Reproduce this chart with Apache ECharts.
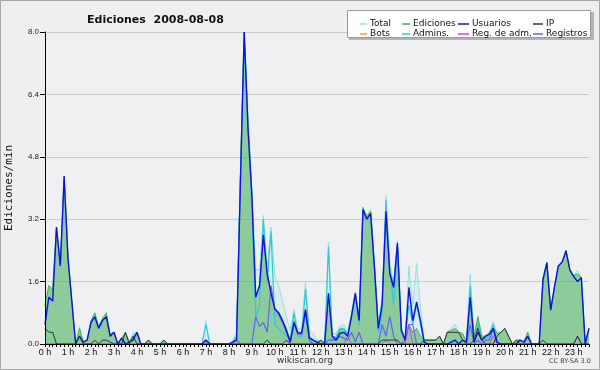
<!DOCTYPE html>
<html>
<head>
<meta charset="utf-8">
<script src="https://cdn.jsdelivr.net/npm/echarts@6/dist/echarts.min.js"></script>
<style>
html,body{margin:0;padding:0;background:#efefef;}
#c{width:600px;height:370px;}
</style>
</head>
<body>
<div id="c"></div>
<script>
// Hour tick labels
var hourLabels = ['0 h','1 h','2 h','3 h','4 h','5 h','6 h','7 h','8 h','9 h','10 h','11 h',
  '12 h','13 h','14 h','15 h','16 h','17 h','18 h','19 h','20 h','21 h','22 h','23 h'];
var yTicks = [0, 1.6, 3.2, 4.8, 6.4, 8.0];

// 10-minute samples, 00:00 .. 23:40 (edits per minute)
var total = [
  1.0,1.5,1.4,3.0,2.0,4.3,   2.3,1.1,0,0.45,0.05,0.1,   0.6,0.8,0.45,0.65,0.8,0.25,
  0.3,0,0.15,0.3,0.05,0.3,   0.3,0,0,0.1,0,0,           0,0.1,0,0,0,0,
  0,0,0,0,0,0,               0.6,0,0,0,0,0,             0,0.1,0.3,4.4,8.0,5.9,
  4.0,1.9,1.9,3.3,2.0,3.0,   1.75,1.5,1.1,0.7,0.35,0.9, 0.4,0.4,1.6,0.37,0.25,0.1,
  0.1,0.05,2.6,0.25,0.27,0.45, 0.5,0.3,0.8,1.35,0.65,3.5, 3.3,3.45,2.1,0.5,1.2,3.8,
  2.1,1.55,2.65,0.45,0.15,2.0, 0.95,2.07,0.95,0.1,0.1,0.1, 0.1,0.2,0,0.3,0.4,0.5,
  0.3,0.27,0.1,1.8,0.2,0.7,  0.2,0.2,0.3,0.57,0.3,0.3,  0.4,0.2,0,0.1,0.1,0.05,
  0.3,0,0,0,1.7,2.1,         0.87,1.47,2.0,2.1,2.4,1.9, 1.75,1.88,1.7,0.05,0.4
];
var ediciones = [
  1.0,1.5,1.4,3.0,2.0,4.3,   2.2,1.1,0,0.4,0.05,0.1,    0.6,0.8,0.45,0.65,0.8,0.25,
  0.3,0,0.15,0.3,0.05,0.2,   0.3,0,0,0.1,0,0,           0,0.1,0,0,0,0,
  0,0,0,0,0,0,               0.1,0,0,0,0,0,             0,0.05,0.2,4.3,8.0,5.6,
  3.9,1.2,1.5,2.7,1.85,1.3,  0.9,0.8,0.6,0.4,0.1,0.6,   0.3,0.3,0.9,0.2,0.1,0.05,
  0.1,0,1.3,0.2,0.15,0.35,   0.4,0.25,0.75,1.3,0.6,3.5, 3.25,3.4,2.0,0.45,1.1,3.5,
  1.9,1.5,2.6,0.4,0.1,0.5,   0.3,0.4,0.2,0.1,0.1,0.1,   0.1,0.2,0,0.3,0.35,0.4,
  0.3,0.27,0.05,1.3,0.2,0.7, 0.2,0.2,0.3,0.45,0.27,0.3, 0.4,0.2,0,0.1,0.1,0.05,
  0.3,0,0,0,1.7,2.1,         0.87,1.47,2.0,2.1,2.4,1.9, 1.75,1.8,1.7,0.05,0.4
];
var usuarios = [
  0.5,1.2,1.1,3.0,2.0,4.3,   2.2,1.1,0,0.2,0.05,0.1,    0.55,0.7,0.4,0.6,0.7,0.2,
  0.3,0,0.15,0,0.05,0.1,     0.3,0,0,0,0,0,             0,0,0,0,0,0,
  0,0,0,0,0,0,               0.1,0,0,0,0,0,             0,0.05,0.1,4.1,8.0,5.5,
  3.8,1.2,1.5,2.8,1.8,1.3,   0.9,0.8,0.6,0.35,0.05,0.55, 0.28,0.28,0.88,0.15,0.1,0.05,
  0,0,1.3,0.2,0.1,0.27,      0.3,0.2,0.7,1.3,0.6,3.45,  3.2,3.35,1.95,0.4,1.0,3.4,
  1.8,1.45,2.58,0.35,0.1,1.45, 0.6,1.08,0.6,0.05,0,0,   0,0,0,0,0.05,0.1,
  0,0.1,0.05,1.2,0.05,0.3,   0.1,0.2,0.25,0.4,0.05,0,   0,0,0,0,0.1,0.05,
  0.2,0,0,0,1.65,2.08,       0.87,1.47,2.0,2.1,2.39,1.9, 1.73,1.6,1.7,0,0.4
];
var ip = [
  0.4,0.3,0.3,0,0,0,         0,0,0,0.2,0,0,             0,0.1,0,0.1,0.1,0.05,
  0,0,0,0.3,0,0.2,           0,0,0,0.1,0,0,             0,0.1,0,0,0,0,
  0,0,0,0,0,0,               0,0,0,0,0,0,               0,0,0,0,0,0,
  0,0,0,0,0.1,0,             0,0,0,0.1,0,0,             0,0,0,0,0,0,
  0.1,0,0,0,0,0,             0,0,0,0,0,0,               0,0,0,0,0.1,0.1,
  0.1,0.1,0.1,0,0,0,         0,0,0,0.1,0.1,0.1,         0.1,0.2,0,0.3,0.3,0.3,
  0.3,0.1,0,0,0.1,0.4,       0.1,0,0,0,0.2,0.3,         0.4,0.2,0,0.1,0,0,
  0,0,0,0,0.1,0,             0,0,0,0,0,0,               0,0.2,0,0,0
];
var bots = [
  0,0,0,0,0,0, 0,0,0,0,0,0, 0,0,0,0,0,0, 0,0,0,0,0,0, 0,0,0,0,0,0, 0,0,0,0,0,0,
  0,0,0,0,0,0, 0,0,0,0,0,0, 0,0,0,0,0,0, 0,0,0,0,0,0, 0,0,0,0,0,0, 0,0,0,0,0,0,
  0,0,0,0,0,0, 0,0,0,0,0,0, 0,0,0,0,0,0, 0,0,0,0,0,0, 0,0,0,0,0,0, 0,0,0,0,0,0,
  0,0,0,0,0,0, 0,0,0,0,0,0, 0,0,0,0,0,0, 0,0,0,0,0,0, 0,0,0,0,0,0, 0,0,0,0,0
];
var admins = [
  0,0,0,0,0,0,               0,0,0,0,0,0,               0,0,0,0,0,0,
  0,0,0,0,0,0,               0,0,0,0,0,0,               0,0,0,0,0,0,
  0,0,0,0,0,0,               0.5,0,0,0,0,0,             0,0,0.1,4.2,7.8,5.6,
  3.5,0.7,1.0,3.2,1.6,2.9,   0.5,0.4,0.3,0.2,0.1,0.8,   0.2,0.2,1.4,0.2,0.1,0,
  0,0,2.5,0.1,0.2,0.4,       0.4,0.2,0.7,1.2,0.5,3.45,  3.2,3.35,1.9,0.3,0.8,3.7,
  1.9,1.0,2.5,0.3,0.1,1.0,   0.5,1.0,0.5,0,0,0,         0,0,0,0,0,0.1,
  0,0,0,1.5,0.05,0.5,        0.1,0.15,0.2,0.5,0,0,      0,0,0,0,0,0,
  0,0,0,0,0,0,               0,0,0,0,0,0,               0,0,0,0,0
];
var regAdm = [
  0,0,0,0,0,0, 0,0,0,0,0,0, 0,0,0,0,0,0, 0,0,0,0,0,0, 0,0,0,0,0,0, 0,0,0,0,0,0,
  0,0,0,0,0,0, 0,0,0,0,0,0, 0,0,0,0,0,0, 0,0,0,0,0,0, 0,0,0,0,0,0, 0,0,0,0,0,0,
  0,0,0,0,0,0, 0,0.2,0,0,0,0, 0,0,0,0,0,0.1, 0,0,0,0,0,0.5, 0,0,0,0,0,0, 0,0,0,0,0,0,
  0,0,0,0,0,0, 0,0,0,0.2,0,0, 0,0,0,0,0,0, 0,0,0,0,0,0, 0,0,0,0,0,0, 0,0,0,0,0
];
var registros = [
  0,0,0,0,0,0,               0,0,0,0,0,0,               0,0,0,0,0,0,
  0,0,0,0,0,0,               0,0,0,0,0,0,               0,0,0,0,0,0,
  0,0,0,0,0,0,               0.1,0,0,0,0,0,             0,0.05,0.1,0,0,0,
  0,0.7,0.45,0.55,0.3,1.5,   0.9,0.75,0.55,0.3,0.05,0.55, 0.25,0.25,0.8,0.1,0,0,
  0,0,0.1,0.1,0.1,0.2,       0.15,0.1,0.3,0.05,0.3,0,   0,0,0,0,0.5,0.2,
  0.7,0.2,0,0,0.1,0.5,       0.5,0,0,0,0,0,             0,0,0,0,0,0,
  0,0,0,0.5,0,0.1,           0,0.1,0.1,0.4,0,0,         0,0,0,0,0,0,
  0.2,0,0,0,0,0,             0,0,0,0,0,0,               0,0.2,0,0,0
];

var categories = [];
for (var i = 0; i < total.length; i++) {
  var h = Math.floor(i / 6), m = (i % 6) * 10;
  categories.push(h + ':' + (m < 10 ? '0' + m : m));
}

function lineSeries(name, data, color, width, z, area) {
  var s = {
    name: name, type: 'line', data: data, showSymbol: false, symbol: 'none',
    lineStyle: {color: color, width: width}, itemStyle: {color: color},
    z: z, silent: true, animation: false, yAxisIndex: 0
  };
  if (area) s.areaStyle = {color: area, opacity: 1};
  return s;
}

var chart = echarts.init(document.getElementById('c'), null, {renderer: 'canvas'});
var legendBase = {
  orient: 'vertical', itemGap: 0, itemHeight: 1.5, icon: 'rect', top: 14,
  textStyle: {fontFamily: 'DejaVu Sans', fontSize: 9, color: '#111', lineHeight: 10, padding: [0,0,0,-2]},
  selectedMode: false
};
function legendCol(left, w, names) {
  var l = JSON.parse(JSON.stringify(legendBase));
  l.left = left; l.itemWidth = w; l.data = names;
  return l;
}
chart.setOption({
  backgroundColor: '#efefef',
  animation: false,
  title: {
    text: 'Ediciones  2008-08-08', left: 82, top: 10,
    textStyle: {fontFamily: 'DejaVu Sans', fontWeight: 'bold', fontSize: 11, color: '#111'}
  },
  legend: [
    legendCol(355, 7, ['Total', 'Bots']),
    legendCol(397, 8, ['Ediciones', 'Admins.']),
    legendCol(453, 11, ['Usuarios', 'Reg. de adm.']),
    legendCol(528, 10, ['IP', 'Registros'])
  ],
  graphic: [
    {type: 'rect', z: 0, shape: {x: 0.5, y: 0.5, width: 599, height: 369}, style: {fill: 'none', stroke: '#a8a8a8', lineWidth: 1}},
    {type: 'rect', z: 0, shape: {x: 349, y: 12, width: 245, height: 28}, style: {fill: '#b4b4b4'}},
    {type: 'rect', z: 1, shape: {x: 347.5, y: 10.5, width: 243, height: 27}, style: {fill: '#ffffff', stroke: '#9a9a9a', lineWidth: 1}},
    {type: 'text', z: 5, left: 277, top: 356, style: {text: 'wikiscan.org', fontFamily: 'DejaVu Sans', fontSize: 9, fill: '#333'}},
    {type: 'text', z: 5, left: 549, top: 358, style: {text: 'CC BY-SA 3.0', fontFamily: 'DejaVu Sans', fontSize: 6.5, fill: '#444'}}
  ],
  grid: {left: 45, right: 11, top: 32, bottom: 26, show: true, backgroundColor: '#eef0f2', borderWidth: 0,
    containLabel: false, outerBoundsMode: 'none'},
  xAxis: {
    type: 'category', data: categories, boundaryGap: false, z: 10,
    axisLine: {lineStyle: {color: '#000', width: 1}},
    axisTick: {interval: 0, length: 3, lineStyle: {color: '#000'}},
    axisLabel: {
      interval: function (idx) { return idx % 6 === 0; },
      formatter: function (v, idx) { return hourLabels[Math.floor(idx / 6)]; },
      margin: 4, fontFamily: 'Liberation Sans', fontSize: 9, color: '#111'
    },
    splitLine: {show: false}
  },
  yAxis: [
    {
      type: 'value', min: yTicks[0], max: yTicks[yTicks.length - 1], interval: 1.6, z: 0,
      axisLine: {show: false}, axisTick: {show: false}, axisLabel: {show: false},
      splitLine: {show: true, lineStyle: {color: '#cccccc', width: 1}}
    },
    {
      type: 'value', min: yTicks[0], max: yTicks[yTicks.length - 1], interval: 1.6, z: 10, position: 'left', offset: 0,
      name: 'Ediciones/min', nameLocation: 'middle', nameGap: 30, nameRotate: 90, nameMoveOverlap: false,
      nameTextStyle: {fontFamily: 'DejaVu Sans Mono', fontSize: 11, color: '#111'},
      axisLine: {show: true, lineStyle: {color: '#000', width: 1}},
      axisTick: {show: true, length: 5, lineStyle: {color: '#000'}},
      axisLabel: {margin: 6, fontFamily: 'Liberation Sans', fontSize: 8, color: '#222',
        formatter: function (v) { return v.toFixed(1); }},
      splitLine: {show: false}
    }
  ],
  series: [
    lineSeries('Total', total, '#8fe3df', 1, 2, 'rgba(170,232,224,0.3)'),
    lineSeries('Ediciones', ediciones, '#44b848', 1, 3, 'rgba(58,165,64,0.48)'),
    lineSeries('Admins.', admins, '#30c8d8', 1.2, 4),
    lineSeries('Registros', registros, '#6262ff', 1.2, 5),
    lineSeries('Reg. de adm.', regAdm, '#cc44ee', 1, 5),
    lineSeries('Bots', bots, '#ffa030', 1, 4),
    lineSeries('Usuarios', usuarios, '#1010e0', 1.4, 6),
    lineSeries('IP', ip, '#333333', 1, 7)
  ]
});
</script>
</body>
</html>
